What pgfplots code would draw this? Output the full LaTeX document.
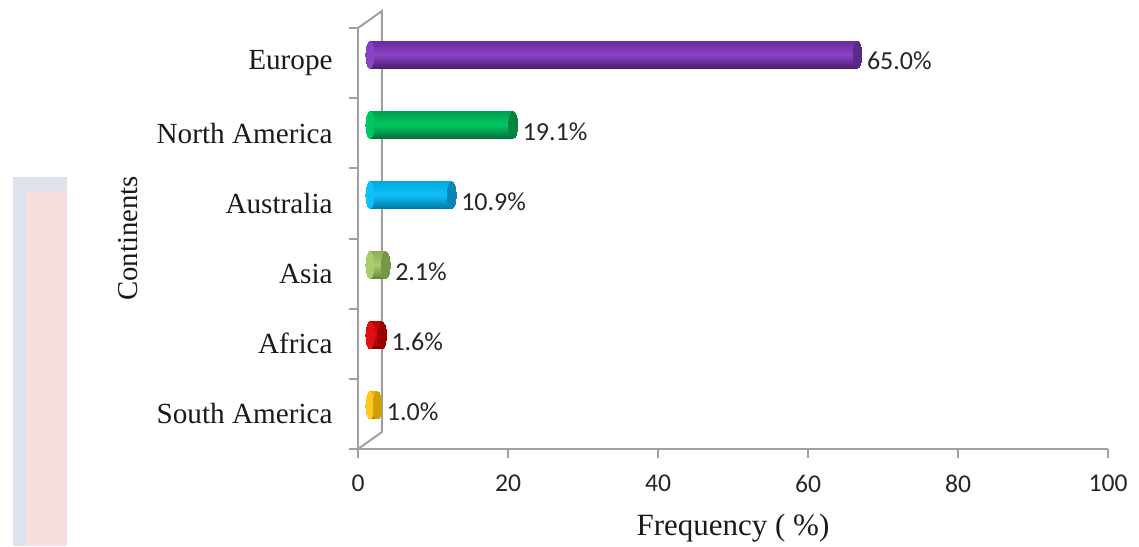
\documentclass[border=0pt]{standalone}
\usepackage{fontspec}
\setmainfont{Liberation Serif}
\newfontfamily\calibri{Carlito}
\usepackage{pgfplots}
\pgfplotsset{compat=1.18}
\usetikzlibrary{shadings}

\definecolor{axisgray}{HTML}{A0A0A0}
\definecolor{labelblack}{HTML}{1A1A1A}
\definecolor{numtext}{HTML}{262626}
\definecolor{panelblue}{HTML}{DDE2EC}
\definecolor{panelpink}{HTML}{F9DEDE}

% cylinder colours: top, middle, bottom, end cap
\definecolor{purT}{HTML}{6A2C9E}\definecolor{purM}{HTML}{8A42C4}\definecolor{purB}{HTML}{4B1E72}\definecolor{purC}{HTML}{5B2A88}
\definecolor{grnT}{HTML}{00A050}\definecolor{grnM}{HTML}{00C860}\definecolor{grnB}{HTML}{00703A}\definecolor{grnC}{HTML}{00843F}
\definecolor{bluT}{HTML}{00A8E0}\definecolor{bluM}{HTML}{10C0F8}\definecolor{bluB}{HTML}{0078A8}\definecolor{bluC}{HTML}{0A86B5}
\definecolor{olvT}{HTML}{8CB050}\definecolor{olvM}{HTML}{A8CC6C}\definecolor{olvB}{HTML}{66843A}\definecolor{olvC}{HTML}{76964A}
\definecolor{redT}{HTML}{C00000}\definecolor{redM}{HTML}{E01010}\definecolor{redB}{HTML}{7A0000}\definecolor{redC}{HTML}{9E0000}
\definecolor{gldT}{HTML}{F0B000}\definecolor{gldM}{HTML}{FFC820}\definecolor{gldB}{HTML}{B08000}\definecolor{gldC}{HTML}{D0A000}

% one horizontal cylinder: #1 value, #2 category position, #3 colour prefix
\newcommand{\cylinder}[3]{%
  \addplot[only marks, mark=*, mark size=6.75pt,
    mark options={xscale=0.3, draw=#3M, fill=#3M, line width=0pt},
    xshift=6pt, yshift=4.25pt, forget plot] coordinates {(0,#2)};
  \addplot[xbar, bar width=13.5pt, bar shift=0pt, draw=none,
    top color=#3T, bottom color=#3B, middle color=#3M,
    xshift=6pt, yshift=4.25pt, forget plot] coordinates {(#1,#2)};
  \addplot[only marks, mark=*, mark size=6.75pt,
    mark options={xscale=0.33, draw=#3C, fill=#3C, line width=0pt},
    xshift=6pt, yshift=4.25pt, forget plot,
    point meta=x,
    nodes near coords={\pgfmathprintnumber[fixed,fixed zerofill,precision=1]{\pgfplotspointmeta}\%}]
    coordinates {(#1,#2)};
}

\begin{document}
\begin{tikzpicture}
\path[use as bounding box] (-179pt,-48.5pt) rectangle (390.5pt,224.5pt);
% side panel
\fill[panelblue] (-172.5pt,-48.5pt) rectangle (-145.5pt,136pt);
\fill[panelpink] (-166pt,-48.5pt) rectangle (-145.5pt,129pt);

\begin{axis}[
  at={(0,0)}, anchor=south west,
  width=375pt, height=210.5pt, scale only axis,
  xmin=0, xmax=100, ymin=-0.5, ymax=5.5,
  clip=false,
  axis x line*=bottom, axis y line*=left,
  axis line style={draw=axisgray, line width=1pt},
  tick style={draw=axisgray, line width=1pt},
  tick align=outside,
  major tick length=4.5pt,
  xtick={0,20,...,100},
  ytick={-0.5,0.5,...,5.5},
  yticklabels={},
  extra y ticks={0,1,2,3,4,5},
  extra y tick labels={South America,Africa,Asia,Australia,North America,Europe},
  extra y tick style={major tick length=0pt,
    yticklabel style={anchor=east, inner sep=0pt, xshift=-12.5pt}},
  yticklabel style={font=\fontsize{14.6}{16}\selectfont, text=labelblack},
  xticklabel style={font=\calibri\fontsize{12.8}{14}\selectfont, text=numtext, yshift=-5pt},
  /pgf/number format/assume math mode=true,
  every axis x label/.style={at={(axis description cs:0.5,-0.187)}, anchor=center},
  every axis y label/.style={at={(axis description cs:-0.307,0.5)}, rotate=90, anchor=center},
  xlabel={\fontsize{15.5}{17}\selectfont Frequency ( \%)},
  ylabel={\fontsize{14.4}{16}\selectfont Continents},
  label style={text=labelblack},
  every node near coord/.append style={font=\calibri\fontsize{13}{15}\selectfont,
    text=numtext, anchor=west, inner sep=0pt, xshift=4.75pt, yshift=-3.25pt},
]
% back wall and floor edges of the 3-D frame
\draw[axisgray, line width=1pt]
  (rel axis cs:0,0) -- ++(12pt,8.5pt)
  -- ([shift={(12pt,8.5pt)}]rel axis cs:0,1) -- (rel axis cs:0,1);

\cylinder{65.0}{5}{pur}
\cylinder{19.1}{4}{grn}
\cylinder{10.9}{3}{blu}
\cylinder{2.1}{2}{olv}
\cylinder{1.6}{1}{red}
\cylinder{1.0}{0}{gld}
\end{axis}
\end{tikzpicture}
\end{document}
